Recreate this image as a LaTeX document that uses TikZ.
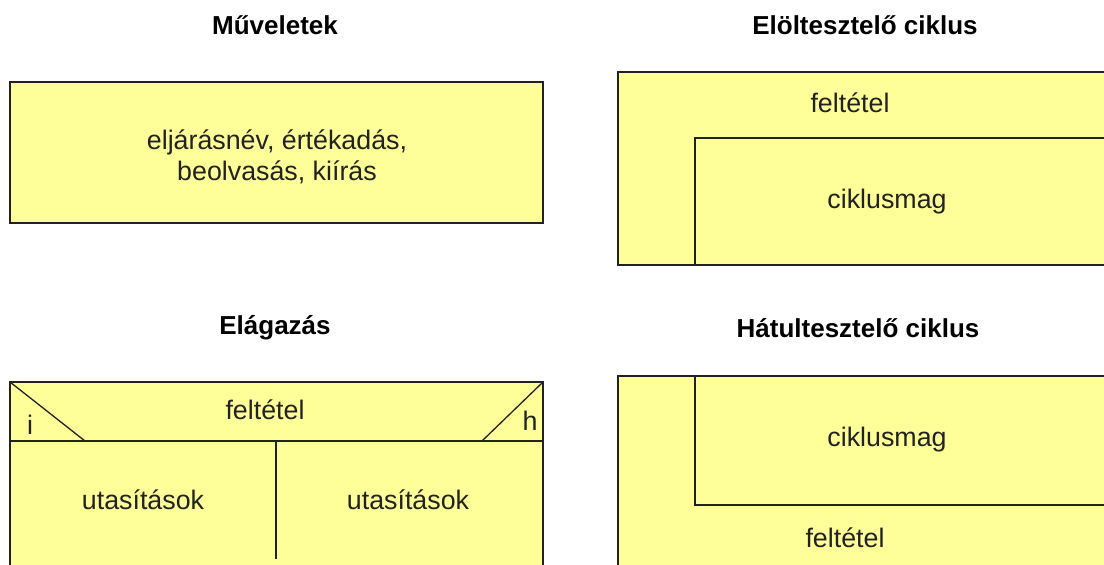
\documentclass[tikz,border=0pt]{standalone}
\usepackage{fontspec}
\setmainfont{Liberation Sans}
\begin{document}
\begin{tikzpicture}[x=1pt,y=-1pt,
  boxfill/.style={fill=nsyellow,draw=nsline,line width=1.3pt},
  ln/.style={draw=nsline,line width=1.3pt},
  ttl/.style={font=\fontsize{26}{30}\selectfont\bfseries,text=black,inner sep=0pt},
  txt/.style={font=\fontsize{26.8}{30.5}\selectfont,text=nstext,inner sep=0pt,align=center}]
\definecolor{nsyellow}{HTML}{FFFF99}
\definecolor{nsline}{HTML}{222222}
\definecolor{nstext}{HTML}{222222}
\useasboundingbox (0,0) rectangle (1104,565);
\clip (0,0) rectangle (1104,565);
% titles
\node[ttl] (t1) at (275,25) {Műveletek};
\node[ttl] (t2) at (865,25) {Elöltesztelő ciklus};
\node[ttl] (t3) at (275,328) {Elágazás};
\node[ttl] (t4) at (858,328) {Hátultesztelő ciklus};
% Muveletek
\draw[boxfill] (10,82) rectangle (543,223);
\node[txt] (ops) at (277,157) {eljárásnév, értékadás,\\beolvasás, kiírás};
% Eloltesztelo
\draw[boxfill] (618,72) rectangle (1120,265);
\draw[ln] (695,265) -- (695,138) -- (1120,138);
\node[txt] (f1) at (850,103) {feltétel};
\node[txt] (c1) at (887,202) {ciklusmag};
% Elagazas
\draw[boxfill] (10,382) rectangle (543,575);
\coordinate (hl) at (10,441);
\coordinate (hr) at (543,441);
\draw[ln] (hl) -- (hr);
\draw[ln] (10,382) -- (85,441);
\draw[ln] (543,382) -- (482,441);
\draw[ln] (276,441) -- (276,559);
\node[txt] (f2) at (265,410) {feltétel};
\node[txt] (ii) at (30,425) {i};
\node[txt] (hh) at (530,421) {h};
\node[txt] (u1) at (143,500) {utasítások};
\node[txt] (u2) at (408,500) {utasítások};
% Hatultesztelo
\draw[boxfill] (618,376) rectangle (1120,575);
\draw[ln] (695,376) -- (695,505) -- (1120,505);
\node[txt] (c2) at (887,440) {ciklusmag};
\node[txt] (f3) at (845,538) {feltétel};
\end{tikzpicture}
\end{document}
